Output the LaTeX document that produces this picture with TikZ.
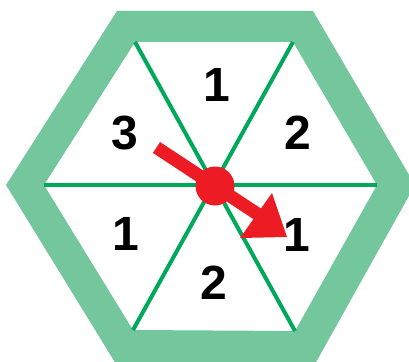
\documentclass[tikz,border=0pt]{standalone}
\usepackage{fontspec}
\newfontfamily\numfont{Liberation Sans}
\definecolor{band}{HTML}{74C69D}
\definecolor{spoke}{HTML}{00A859}
\definecolor{pinred}{HTML}{ED1C24}
\begin{document}
\begin{tikzpicture}[x=1pt,y=-1pt,
  num/.style={inner sep=0pt,font=\numfont\bfseries\fontsize{48}{48}\selectfont,text=black},
  spokeline/.style={draw=spoke,line width=4pt},
  redfill/.style={fill=pinred,draw=none}]
\useasboundingbox (0,0) rectangle (409,361);
\clip (0,0) rectangle (409,361);
% band
\fill[band,even odd rule]
  (6,185) -- (117,11) -- (313,11) -- (415,185) -- (315,364) -- (116,364) -- cycle
  (44,185) -- (135,42) -- (293,42) -- (377,185) -- (295,331) -- (133,330) -- cycle;
% corners of inner hexagon
\coordinate (L) at (44,185);
\coordinate (TL) at (135,42);
\coordinate (TR) at (293,42);
\coordinate (R) at (377,185);
\coordinate (BR) at (295,331);
\coordinate (BL) at (133,330);
\draw[spokeline] (L) -- (R);
\draw[spokeline] (TL) -- (BR);
\draw[spokeline] (TR) -- (BL);
% numbers
\node[num] (n1) at (217,85) {1};
\node[num] (n2) at (298,133) {2};
\node[num] (n3) at (125,133) {3};
\node[num] (n4) at (126,234) {1};
\node[num] (n5) at (214,283) {2};
\node[num] (n6) at (297,235) {1};
% arrow
\coordinate (tail) at (156.5,147.5);
\coordinate (neck) at (259,215);
\draw[draw=pinred,line width=13pt] (tail) -- (neck);
\fill[pinred] (272,193) -- (287,237) -- (240,238) -- cycle;
\node[circle,redfill,minimum size=39pt,inner sep=0pt] (hub) at (215,186) {};
\end{tikzpicture}
\end{document}
